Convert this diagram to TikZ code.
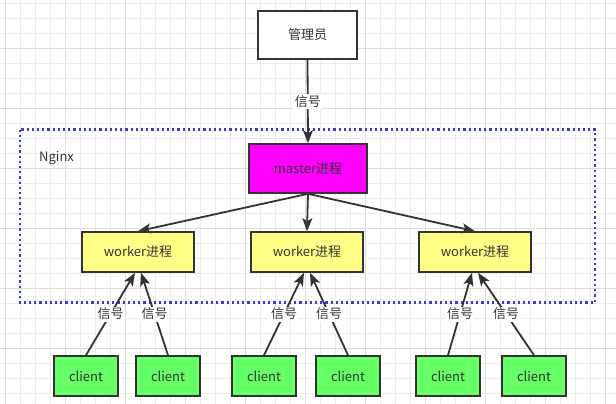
\documentclass[tikz,border=0pt]{standalone}
\usepackage{fontspec}
\setmainfont{Noto Sans CJK SC}
\usetikzlibrary{arrows.meta}
\definecolor{ink}{HTML}{333333}
\definecolor{gridminor}{HTML}{EDEDED}
\definecolor{gridmajor}{HTML}{DCDCDC}
\definecolor{nginxblue}{HTML}{3A3AD0}
\definecolor{masterfill}{HTML}{FF00FF}
\definecolor{workerfill}{HTML}{FFFF88}
\definecolor{clientfill}{HTML}{66FF66}
\tikzset{
  box/.style={draw=ink, line width=1.6pt, text=ink, font=\fontsize{13}{15}\selectfont, inner sep=0pt},
  adminbox/.style={box, fill=white, minimum width=99pt, minimum height=48pt},
  masterbox/.style={box, fill=masterfill, minimum width=118pt, minimum height=49pt},
  workerbox/.style={box, fill=workerfill, minimum width=112pt, minimum height=40pt},
  clientbox/.style={box, fill=clientfill, minimum width=64pt, minimum height=40pt},
  conn/.style={draw=ink, line width=1.8pt, -{Stealth[length=13pt,width=10pt,inset=3pt]}},
  siglabel/.style={fill=white, text=ink, inner sep=1.5pt, font=\fontsize{13}{15}\selectfont},
}
\begin{document}
\begin{tikzpicture}[x=1pt,y=-1pt]
\useasboundingbox (0,0) rectangle (616,404);
\fill[white] (0,0) rectangle (616,404);
% grid
\foreach \i in {0,...,40}{
  \pgfmathtruncatemacro{\m}{mod(\i,4)}
  \ifnum\m=0
    \draw[gridmajor, line width=0.9pt] ({5+15*\i},0) -- ({5+15*\i},404);
  \else
    \draw[gridminor, line width=0.9pt] ({5+15*\i},0) -- ({5+15*\i},404);
  \fi
}
\foreach \i in {0,...,26}{
  \pgfmathtruncatemacro{\m}{mod(\i,4)}
  \ifnum\m=3
    \draw[gridmajor, line width=0.9pt] (0,{3.3+15*\i}) -- (616,{3.3+15*\i});
  \else
    \draw[gridminor, line width=0.9pt] (0,{3.3+15*\i}) -- (616,{3.3+15*\i});
  \fi
}
% Nginx container
\draw[nginxblue, line width=2.2pt, dash pattern=on 2.2pt off 3pt] (20,129.5) rectangle (595,302.5);
\node[anchor=west, text=ink, font=\fontsize{13}{15}\selectfont, inner sep=0pt] (nginx) at (39,158) {Nginx};
% nodes
\node[adminbox] (admin) at (307.5,35) {管理员};
\node[masterbox] (master) at (308,168.5) {master进程};
\node[workerbox] (w1) at (138,252) {worker进程};
\node[workerbox] (w2) at (307,252) {worker进程};
\node[workerbox] (w3) at (475,252) {worker进程};
\node[clientbox] (c1) at (86,376) {client};
\node[clientbox] (c2) at (168,376) {client};
\node[clientbox] (c3) at (264,376) {client};
\node[clientbox] (c4) at (348,376) {client};
\node[clientbox] (c5) at (448,376) {client};
\node[clientbox] (c6) at (534,376) {client};
% connectors
\draw[conn] (admin.south) -- node[siglabel] {信号} (master.north);
\draw[conn] (master.south) -- (w1.north);
\draw[conn] (master.south) -- (w2.north);
\draw[conn] (master.south) -- (w3.north);
\draw[conn] (c1.north) -- node[siglabel] {信号} ([xshift=-3pt]w1.south);
\draw[conn] (c2.north) -- node[siglabel] {信号} ([xshift=3pt]w1.south);
\draw[conn] (c3.north) -- node[siglabel] {信号} ([xshift=-3pt]w2.south);
\draw[conn] (c4.north) -- node[siglabel] {信号} ([xshift=3pt]w2.south);
\draw[conn] (c5.north) -- node[siglabel] {信号} ([xshift=-3pt]w3.south);
\draw[conn] (c6.north) -- node[siglabel] {信号} ([xshift=3pt]w3.south);
\end{tikzpicture}
\end{document}
